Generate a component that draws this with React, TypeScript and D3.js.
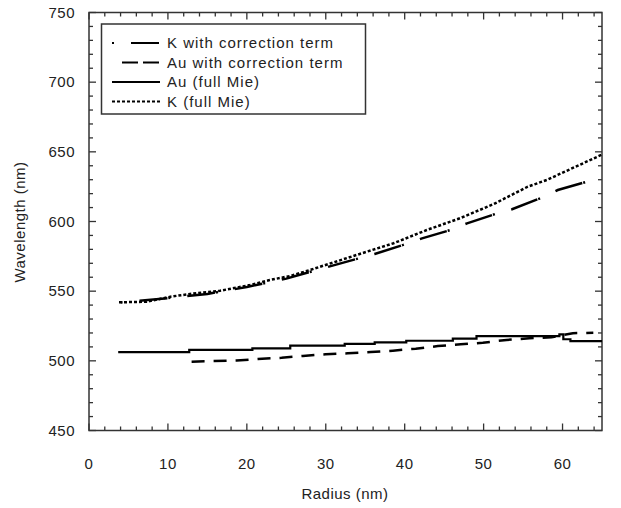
import React, { useEffect, useRef } from "react";
import * as d3 from "d3";

// Au (full Mie) - solid, stepped
const auMieRadius = [3.7, 12.7, 20.7, 25.5, 32.4, 36.2, 40.2, 46.1, 49.1, 59.6, 60.1, 61.0, 65.0];
const auMieWave = [506.3, 507.8, 509.0, 510.9, 512.1, 513.3, 514.4, 515.9, 517.8, 519.0, 515.5, 514.2, 514.2];

// Au with correction term - dashed
const auCorrRadius = [13.0, 18.7, 21.4, 24.4, 27.1, 30.0, 32.8, 35.7, 38.5, 41.4, 44.2, 47.1, 49.9, 52.9, 55.8, 58.6, 61.3, 63.9];
const auCorrWave = [499.4, 500.2, 501.3, 502.2, 503.5, 504.7, 505.4, 506.3, 507.3, 508.7, 510.6, 511.9, 513.0, 515.0, 516.2, 516.9, 519.8, 520.2];

// K (full Mie) - dotted
const kMieRadius = [3.8, 7.3, 10.3, 12.8, 16.6, 20.4, 22.9, 25.5, 28.0, 34.3, 38.6, 42.8, 47.0, 51.3, 55.6, 58.0, 65.0];
const kMieWave = [542.0, 542.4, 546.0, 548.0, 550.3, 554.4, 558.0, 560.9, 565.2, 576.7, 584.4, 593.9, 602.3, 612.6, 625.0, 629.8, 648.0];

// K with correction term - dot / long dash
const kCorrRadius = [4.0, 10.0, 15.0, 20.0, 25.0, 30.0, 36.2, 39.8, 42.2, 45.8, 47.9, 51.5, 53.6, 57.2, 59.4, 63.1];
const kCorrWave = [542.0, 545.0, 548.0, 553.0, 559.0, 567.0, 576.7, 583.2, 587.9, 593.9, 598.7, 605.4, 608.8, 616.7, 622.6, 628.6];

const legendLabels = ["K with correction term", "Au with correction term", "Au (full Mie)", "K (full Mie)"];
const xTicks = [0, 10, 20, 30, 40, 50, 60];
const yTicks = [450, 500, 550, 600, 650, 700, 750];

const App = () => {
  const svgRef = useRef<SVGSVGElement>(null);

  useEffect(() => {
    document.body.style.margin = "0";
    const width = 621;
    const height = 508;
    const left = 89, right = 602, top = 12.5, bottom = 430.5;
    const font = "'Liberation Sans', Arial, sans-serif";

    const svg = d3.select(svgRef.current).attr("width", width).attr("height", height);
    svg.selectAll("*").remove();
    svg.append("rect").attr("width", width).attr("height", height).attr("fill", "#fff");

    const x = d3.scaleLinear().domain([0, 65]).range([left, right]);
    const y = d3.scaleLinear().domain([450, 750]).range([bottom, top]);

    const axisColor = "#333";

    // 刻度 (inward, all four sides)
    const g = svg.append("g").attr("stroke", axisColor).attr("stroke-width", 1.3);
    d3.range(0, 65, 2).forEach((v) => {
      const len = v % 10 === 0 ? 7 : 4;
      g.append("line").attr("x1", x(v)).attr("x2", x(v)).attr("y1", bottom).attr("y2", bottom - len);
      g.append("line").attr("x1", x(v)).attr("x2", x(v)).attr("y1", top).attr("y2", top + len);
    });
    d3.range(450, 751, 10).forEach((v) => {
      const len = v % 50 === 0 ? 7 : 4;
      g.append("line").attr("x1", left).attr("x2", left + len).attr("y1", y(v)).attr("y2", y(v));
      g.append("line").attr("x1", right).attr("x2", right - len).attr("y1", y(v)).attr("y2", y(v));
    });

    svg
      .append("rect")
      .attr("x", left)
      .attr("y", top)
      .attr("width", right - left)
      .attr("height", bottom - top)
      .attr("fill", "none")
      .attr("stroke", axisColor)
      .attr("stroke-width", 1.5);

    const textStyle = (sel: any, spacing = 0.5) =>
      sel.attr("font-family", font).attr("font-size", 15).attr("fill", "#222").style("letter-spacing", `${spacing}px`);

    xTicks.forEach((v) => {
      svg.append("text").attr("x", x(v)).attr("y", 469).attr("text-anchor", "middle").text(v).call(textStyle);
    });
    yTicks.forEach((v) => {
      svg
        .append("text")
        .attr("x", 75)
        .attr("y", y(v) + 5)
        .attr("text-anchor", "end")
        .text(v)
        .call(textStyle);
    });

    svg.append("text").attr("x", 345).attr("y", 499).attr("text-anchor", "middle").text("Radius (nm)").call(textStyle);
    svg
      .append("text")
      .attr("transform", `translate(25,222) rotate(-90)`)
      .attr("text-anchor", "middle")
      .text("Wavelength (nm)")
      .call(textStyle);

    const line = d3
      .line<[number, number]>()
      .x((d) => x(d[0]))
      .y((d) => y(d[1]));
    const stepLine = d3
      .line<[number, number]>()
      .curve(d3.curveStepAfter)
      .x((d) => x(d[0]))
      .y((d) => y(d[1]));

    const zip = (a: number[], b: number[]) => a.map((r, i) => [r, b[i]] as [number, number]);

    const series = [
      { data: zip(kCorrRadius, kCorrWave), dash: "2,17,28,1", width: 2.5, gen: line },
      { data: zip(auCorrRadius, auCorrWave), dash: "13,9", width: 2.5, gen: line },
      { data: zip(auMieRadius, auMieWave), dash: null, width: 2.2, gen: stepLine },
      { data: zip(kMieRadius, kMieWave), dash: "3,2", width: 2.5, gen: line },
    ];

    series.forEach((s) => {
      svg
        .append("path")
        .datum(s.data)
        .attr("d", s.gen)
        .attr("fill", "none")
        .attr("stroke", "#000")
        .attr("stroke-width", s.width)
        .attr("stroke-dasharray", s.dash);
    });

    // 图例
    const legend = svg.append("g");
    legend
      .append("rect")
      .attr("x", 101.5)
      .attr("y", 24)
      .attr("width", 264)
      .attr("height", 90)
      .attr("fill", "#fff")
      .attr("stroke", axisColor)
      .attr("stroke-width", 1.5);

    const legendDash = ["2,17,28,1", "16,5", null, "3,2"];
    const legendStart = [112, 122, 112, 112];
    legendLabels.forEach((label, i) => {
      const ly = 43 + i * 19.5;
      legend
        .append("line")
        .attr("x1", legendStart[i])
        .attr("x2", 160)
        .attr("y1", ly)
        .attr("y2", ly)
        .attr("stroke", "#000")
        .attr("stroke-width", 2.2)
        .attr("stroke-dasharray", legendDash[i]);
      legend
        .append("text")
        .attr("x", 167)
        .attr("y", ly + 5)
        .text(label)
        .call(textStyle, 1);
    });
  }, []);

  return <svg ref={svgRef} style={{ display: "block" }} />;
};

export default App;
